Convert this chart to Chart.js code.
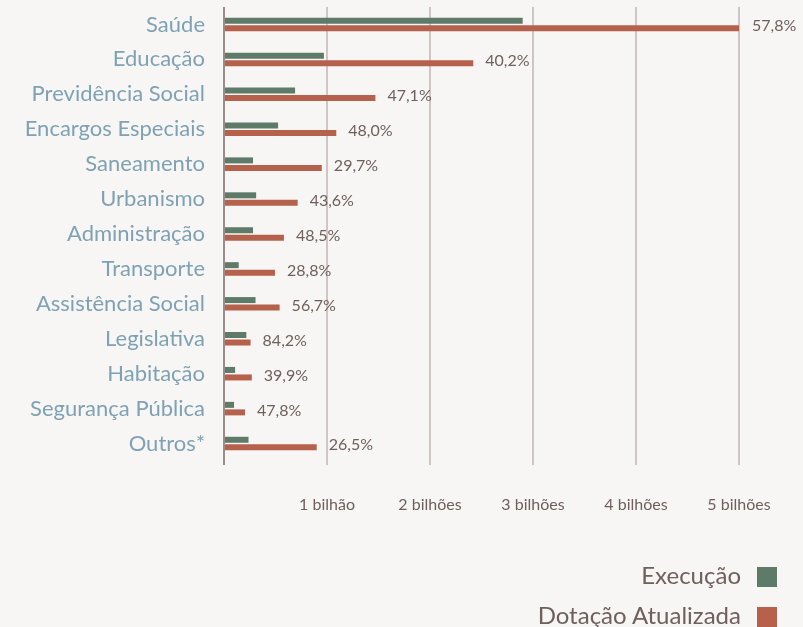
<!DOCTYPE html>
<html>
<head>
<meta charset="utf-8">
<script src="https://cdn.jsdelivr.net/npm/chart.js@4"></script>
<style>
  html, body { margin: 0; padding: 0; background: #f7f6f4; }
  #wrap { position: relative; width: 803px; height: 627px; }
  #legenda { position: absolute; right: 26px; top: 560px; font-family: Lato, sans-serif; font-size: 24px; color: #6f605e; text-align: right; }
  #legenda div { height: 40px; line-height: 30px; }
  #legenda span.box { display: inline-block; width: 20px; height: 20px; margin-left: 16px; vertical-align: -3px; }
</style>
</head>
<body>
<div id="wrap">
  <canvas id="myChart" width="803" height="627"></canvas>
  <div id="legenda"></div>
</div>
<script>
// categorias (funções)
var categorias = ["Saúde", "Educação", "Previdência Social", "Encargos Especiais", "Saneamento", "Urbanismo",
  "Administração", "Transporte", "Assistência Social", "Legislativa", "Habitação", "Segurança Pública", "Outros*"];

// valores em bilhões
var execucao = [2.90, 0.97, 0.69, 0.525, 0.282, 0.312, 0.282, 0.143, 0.306, 0.217, 0.108, 0.0975, 0.238];
var dotacao = [5.01, 2.42, 1.47, 1.09, 0.95, 0.715, 0.582, 0.495, 0.54, 0.258, 0.27, 0.204, 0.90];

// percentual executado (rótulos)
var percentuais = ["57,8%", "40,2%", "47,1%", "48,0%", "29,7%", "43,6%", "48,5%", "28,8%", "56,7%", "84,2%", "39,9%", "47,8%", "26,5%"];

var ticksX = { 1: "1 bilhão", 2: "2 bilhões", 3: "3 bilhões", 4: "4 bilhões", 5: "5 bilhões" };

var corExec = "#5e7b6a";
var corDot = "#b5614b";

// rótulos de percentual à direita da barra de dotação
var rotulosPlugin = {
  id: "rotulos",
  afterDatasetsDraw: function (chart) {
    var ctx = chart.ctx;
    var meta = chart.getDatasetMeta(1);
    ctx.save();
    ctx.font = "16px Lato";
    ctx.fillStyle = "#6f605e";
    ctx.textAlign = "left";
    ctx.textBaseline = "middle";
    meta.data.forEach(function (bar, i) {
      ctx.fillText(percentuais[i], bar.x + 12, bar.y - 2);
    });
    ctx.restore();
  }
};

var ctx = document.getElementById("myChart").getContext("2d");
var chart = new Chart(ctx, {
  type: "bar",
  data: {
    labels: categorias,
    datasets: [
      { label: "Execução", data: execucao, backgroundColor: corExec, categoryPercentage: 0.43, barPercentage: 0.8 },
      { label: "Dotação Atualizada", data: dotacao, backgroundColor: corDot, categoryPercentage: 0.43, barPercentage: 0.8 }
    ]
  },
  options: {
    indexAxis: "y",
    responsive: false,
    animation: false,
    layout: { padding: { top: 7, right: 64, left: 0, bottom: 0 } },
    plugins: {
      legend: { display: false },
      tooltip: { enabled: false }
    },
    scales: {
      x: {
        min: 0,
        max: 5,
        border: { display: false },
        grid: {
          color: function (c) { return c.tick && c.tick.value === 0 ? "#9c8b89" : "#cfc5c3"; },
          lineWidth: 2,
          tickLength: 4
        },
        ticks: {
          stepSize: 1,
          padding: 30,
          color: "#6f605e",
          font: { family: "Lato", size: 16 },
          callback: function (v) { return ticksX[v] || ""; }
        },
        afterFit: function (s) { s.height = 166; }
      },
      y: {
        border: { display: false },
        grid: { display: false },
        ticks: {
          padding: 11,
          color: "#7ea2b4",
          font: { family: "Lato", size: 22 }
        },
        afterFit: function (s) {
          s.width = 224;
          s.paddingTop = 0;
          s.paddingBottom = 0;
        }
      }
    }
  },
  plugins: [rotulosPlugin]
});

// legenda em HTML (caixa à direita do texto)
var legenda = document.getElementById("legenda");
chart.data.datasets.forEach(function (ds) {
  var linha = document.createElement("div");
  linha.innerHTML = ds.label + '<span class="box" style="background:' + ds.backgroundColor + '"></span>';
  legenda.appendChild(linha);
});
</script>
</body>
</html>
